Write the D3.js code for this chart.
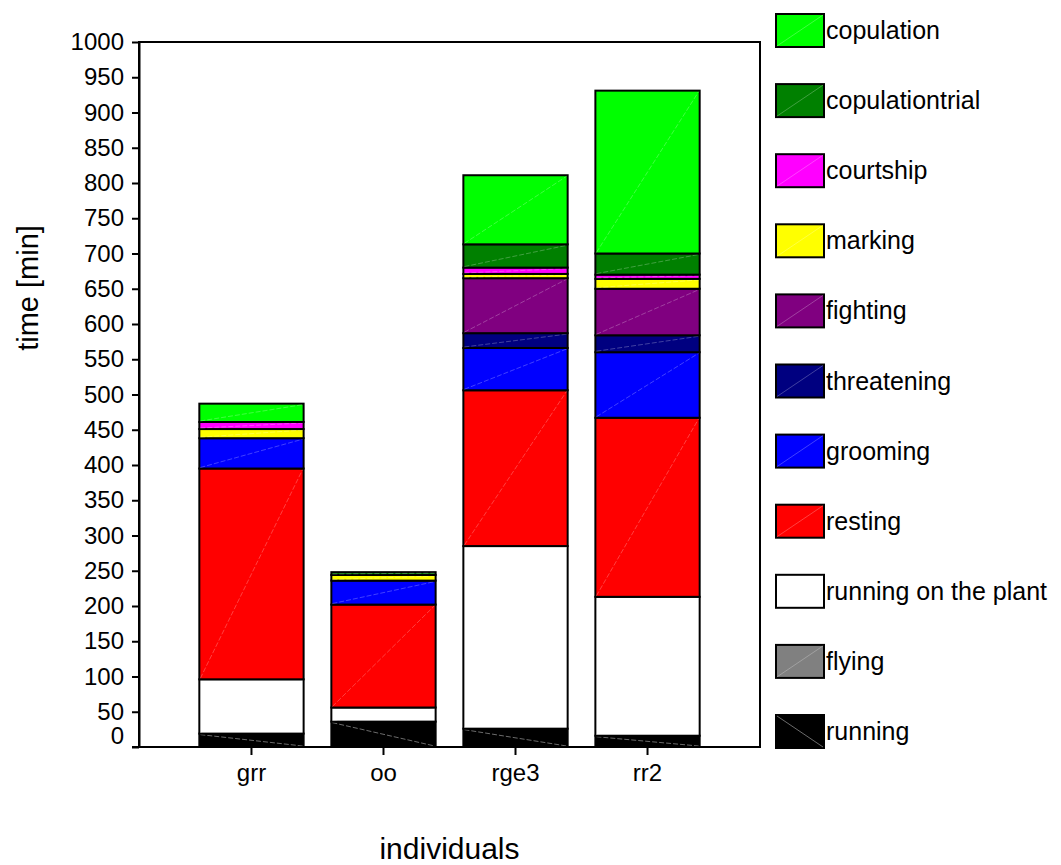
<!DOCTYPE html>
<html>
<head>
<meta charset="utf-8">
<script src="https://cdn.jsdelivr.net/npm/d3@7"></script>
<style>
  html, body { margin: 0; padding: 0; background: #fff; }
  svg { display: block; font-family: "Liberation Sans", Arial, sans-serif; }
</style>
</head>
<body>
<svg id="chart" width="1061" height="865"></svg>
<script>
// Individuals on the x axis
const individuals = ["grr", "oo", "rge3", "rr2"];

// Minutes spent in each behaviour, per individual (stacked bottom to top)
const running         = [19, 36, 26, 16];
const flying          = [0, 0, 0, 0];
const runningOnPlant  = [77, 20, 259, 197];
const resting         = [299, 146, 221, 254];
const grooming        = [43, 34, 60, 93];
const threatening     = [0, 0, 21, 24];
const fighting        = [0, 0, 78, 66];
const marking         = [13, 8, 6, 14];
const courtship       = [10, 0, 9, 6];
const copulationtrial = [0, 4, 33, 30];
const copulation      = [26, 0, 98, 231];

// Series names in stacking order, with their values and fills
const seriesNames  = ["running", "flying", "running on the plant", "resting", "grooming",
                      "threatening", "fighting", "marking", "courtship", "copulationtrial", "copulation"];
const seriesValues = [running, flying, runningOnPlant, resting, grooming,
                      threatening, fighting, marking, courtship, copulationtrial, copulation];
const seriesColors = ["#000000", "#808080", "#ffffff", "#ff0000", "#0000ff",
                      "#000080", "#800080", "#ffff00", "#ff00ff", "#008000", "#00ff00"];

// Y axis ticks
const yTicks = d3.range(0, 1001, 50);

const svg = d3.select("#chart");
const plot = { left: 139, right: 760, top: 42, bottom: 747 };

const x = d3.scaleBand()
  .domain(individuals)
  .range([plot.left, plot.right])
  .paddingInner(0.21)
  .paddingOuter(0.457);

const y = d3.scaleLinear().domain([0, 1000]).range([plot.bottom, plot.top]);

// Table for the stack layout
const table = individuals.map((name, i) => {
  const row = { name };
  seriesNames.forEach((s, k) => { row[s] = seriesValues[k][i]; });
  return row;
});
const stacked = d3.stack().keys(seriesNames)(table);
const colorOf = d3.scaleOrdinal().domain(seriesNames).range(seriesColors);

// Bars
const layers = svg.append("g").selectAll("g")
  .data(stacked)
  .join("g");

const segs = layers.selectAll("g.seg")
  .data(layer => layer.map(d => ({ key: layer.key, y0: d[0], y1: d[1], name: d.data.name }))
    .filter(d => d.y1 - d.y0 > 0))
  .join("g").attr("class", "seg");

segs.append("rect")
  .attr("x", d => x(d.name))
  .attr("width", x.bandwidth())
  .attr("y", d => y(d.y1))
  .attr("height", d => y(d.y0) - y(d.y1))
  .attr("fill", d => colorOf(d.key))
  .attr("stroke", "#000")
  .attr("stroke-width", 2);

// faint diagonal sheen inside each segment
segs.append("line")
  .attr("x1", d => x(d.name) + 1)
  .attr("x2", d => x(d.name) + x.bandwidth() - 1)
  .attr("y1", d => d.key === "running" ? y(d.y1) + 1 : y(d.y0) - 1)
  .attr("y2", d => d.key === "running" ? y(d.y0) - 1 : y(d.y1) + 1)
  .attr("stroke", d => d.key === "running" ? "#999" : "#fff")
  .attr("stroke-opacity", d => d.key === "running" ? 0.7 : 0.25)
  .attr("stroke-width", 1)
  .attr("stroke-dasharray", "5,2");

// Frame
svg.append("rect")
  .attr("x", plot.left).attr("y", plot.top)
  .attr("width", plot.right - plot.left).attr("height", plot.bottom - plot.top)
  .attr("fill", "none").attr("stroke", "#000").attr("stroke-width", 2);

// Y axis
const yAxis = svg.append("g")
  .attr("transform", `translate(${plot.left},0)`)
  .call(d3.axisLeft(y).tickValues(yTicks).tickFormat(d3.format("d"))
    .tickSize(7).tickSizeOuter(0).tickPadding(8));
yAxis.select(".domain").attr("stroke-width", 2);
yAxis.selectAll(".tick line").attr("stroke-width", 2);
yAxis.selectAll(".tick text")
  .attr("font-size", 24)
  .attr("font-family", "Liberation Sans, Arial, sans-serif")
  .attr("fill", "#000")
  .attr("y", d => d === 0 ? -11 : 0);

// X axis
const xAxis = svg.append("g")
  .attr("transform", `translate(0,${plot.bottom})`)
  .call(d3.axisBottom(x).tickSize(8).tickSizeOuter(0).tickPadding(9));
xAxis.select(".domain").remove();
xAxis.selectAll(".tick line").attr("stroke-width", 2);
xAxis.selectAll(".tick text")
  .attr("font-size", 24)
  .attr("font-family", "Liberation Sans, Arial, sans-serif")
  .attr("fill", "#000");

// extend the baseline a little to the left of the y axis
svg.append("line")
  .attr("x1", plot.left - 7).attr("x2", plot.right)
  .attr("y1", plot.bottom).attr("y2", plot.bottom)
  .attr("stroke", "#000").attr("stroke-width", 2);

// Axis titles
svg.append("text")
  .attr("x", (plot.left + plot.right) / 2)
  .attr("y", 859)
  .attr("text-anchor", "middle")
  .attr("font-size", 30)
  .text("individuals");

svg.append("text")
  .attr("transform", "translate(38,288) rotate(-90)")
  .attr("text-anchor", "middle")
  .attr("font-size", 29)
  .text("time [min]");

// Legend, top to bottom from the last stacked series
const legendOrder = seriesNames.slice().reverse();
const legendY = d3.scalePoint().domain(legendOrder).range([14, 715]);
const legend = svg.append("g").selectAll("g")
  .data(legendOrder)
  .join("g")
  .attr("transform", d => `translate(776,${legendY(d)})`);

legend.append("rect")
  .attr("width", 48).attr("height", 33)
  .attr("fill", d => colorOf(d))
  .attr("stroke", "#000").attr("stroke-width", 2);

legend.append("line")
  .attr("x1", 1).attr("x2", 47)
  .attr("y1", d => d === "running" ? 1 : 32)
  .attr("y2", d => d === "running" ? 32 : 1)
  .attr("stroke", d => d === "running" ? "#999" : "#fff")
  .attr("stroke-opacity", d => d === "running" ? 0.7 : 0.25)
  .attr("stroke-width", 1);

legend.append("text")
  .attr("x", 50)
  .attr("y", 25)
  .attr("font-size", 25)
  .text(d => d);
</script>
</body>
</html>
